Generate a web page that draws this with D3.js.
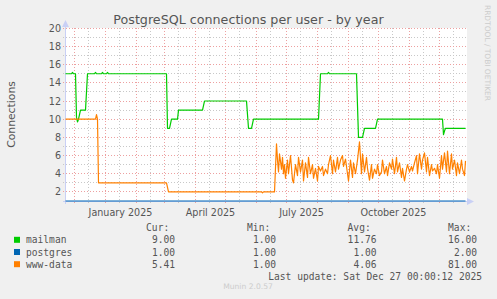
<!DOCTYPE html>
<html>
<head>
<meta charset="utf-8">
<script src="https://cdn.jsdelivr.net/npm/d3@7"></script>
<style>
  html, body { margin: 0; padding: 0; background: #f0f0f0; }
  svg { display: block; }
</style>
</head>
<body>
<div id="chart-mount"></div>
<script>
var WIDTH = 497;
var HEIGHT = 299;
var DAY = 864e5;
var START = Date.UTC(2024, 10, 22);
var END = Date.UTC(2025, 11, 27);

// [day offset from START, connections]
var mailman = [
  [0, 15], [6, 15], [7, 15.15], [8, 15], [10, 15], [11, 10.2], [12, 9.7], [13, 10],
  [15, 11], [20, 11], [22, 15], [29, 15], [30, 15.15], [31, 15], [36, 15], [37, 15.15],
  [38, 15], [41, 15], [42, 15.15], [43, 15], [101, 15], [102, 9], [104, 9], [106, 10],
  [112, 10], [113, 11], [137, 11], [139, 12], [181, 12], [183, 9], [186, 9], [188, 10],
  [253, 10], [255, 15], [262, 15], [263, 15.15], [264, 15], [291, 15], [293, 8], [297, 8],
  [299, 9], [310, 9], [312, 10], [377, 10], [378, 8.3], [379, 8.7], [380, 9], [400, 9]
];

var postgres = [
  [0, 1], [400, 1]
];

var wwwData = [
  [0, 10], [30, 10], [31, 10.5], [32, 10], [33, 3], [101, 3], [103, 2], [196, 2],
  [197, 1.9], [198, 2], [209, 2], [211, 7.3], [212, 5.5], [213, 4.2], [214, 6.2], [216, 4.5],
  [217, 5.8], [218, 4.0], [219, 5.0], [220, 3.5], [222, 5.5], [223, 4.0], [225, 6.0], [227, 3.3],
  [228, 3.0], [230, 5.0], [232, 3.8], [233, 5.8], [235, 4.2], [237, 5.5], [238, 3.2], [240, 5.2],
  [242, 3.6], [243, 5.8], [245, 4.0], [247, 5.0], [248, 3.5], [250, 4.6], [252, 3.2], [253, 4.8],
  [255, 4.3], [257, 4.8], [258, 3.8], [260, 4.5], [262, 4.0], [263, 5.0], [265, 6.0], [267, 4.0],
  [268, 5.5], [270, 4.2], [272, 5.8], [273, 4.5], [275, 5.5], [277, 6.0], [278, 4.8], [280, 5.6],
  [282, 4.0], [283, 3.2], [285, 5.5], [287, 3.6], [288, 5.2], [290, 4.0], [292, 5.5], [294, 7.5],
  [296, 4.0], [297, 6.2], [299, 4.2], [301, 5.8], [302, 4.6], [304, 3.3], [306, 5.0], [307, 3.5],
  [309, 4.5], [311, 4.0], [312, 5.0], [314, 3.8], [316, 4.2], [317, 5.5], [319, 4.0], [321, 4.8],
  [322, 3.8], [324, 5.2], [326, 4.5], [327, 5.6], [329, 4.0], [331, 5.8], [332, 4.2], [334, 5.2],
  [336, 3.6], [337, 4.6], [339, 3.2], [341, 4.5], [342, 5.0], [344, 4.2], [346, 4.8], [347, 4.3],
  [349, 5.2], [351, 6.0], [352, 4.0], [354, 6.2], [356, 4.5], [357, 5.5], [359, 6.3], [361, 4.2],
  [362, 5.8], [364, 3.8], [366, 5.0], [367, 4.3], [369, 4.6], [371, 4.0], [372, 5.0], [374, 3.5],
  [376, 6.0], [377, 4.5], [379, 6.3], [381, 4.2], [382, 6.5], [384, 4.0], [386, 6.2], [387, 4.5],
  [389, 5.5], [391, 3.8], [392, 5.2], [394, 4.0], [396, 5.5], [397, 4.5], [399, 3.8], [400, 5.41]
];

var SERIES_NAMES = ['mailman', 'postgres', 'www-data'];
var SERIES_COLORS = ['#00cc00', '#0066b3', '#ff8000'];
var CUR = ['9.00', '1.00', '5.41'];
var MIN = ['1.00', '1.00', '1.00'];
var AVG = ['11.76', '1.00', '4.06'];
var MAX = ['16.00', '2.00', '81.00'];
var Y_TICKS = [2, 4, 6, 8, 10, 12, 14, 16, 18, 20];
var Y_MINOR = [3, 5, 7, 9, 11, 13, 15, 17, 19];
var X_LABELS = ['January 2025', 'April 2025', 'July 2025', 'October 2025'];

var plot = { left: 66, right: 466, top: 28, bottom: 201 };

var $svg = d3.select('#chart-mount').append('svg')
  .attr('width', WIDTH)
  .attr('height', HEIGHT);

var x = d3.scaleUtc()
  .domain([new Date(START), new Date(END)])
  .range([65.5, 465.5]);

var y = d3.scaleLinear()
  .domain([1, 20])
  .range([plot.bottom, 28.3]);

function dayToDate (d) {
  return new Date(START + d * DAY);
}

function crisp (v) {
  return Math.round(v - 0.5) + 0.5;
}

$svg.append('rect')
  .attr('width', WIDTH)
  .attr('height', HEIGHT)
  .attr('fill', '#f0f0f0');

$svg.append('rect')
  .attr('x', plot.left)
  .attr('y', plot.top)
  .attr('width', plot.right - plot.left + 1)
  .attr('height', plot.bottom - plot.top)
  .attr('fill', '#ffffff');

// grid: month starts in red, mid-month in grey
var monthStarts = d3.utcMonth.range(new Date(START), new Date(END));
var midMonths = monthStarts.map(function (d) { return d3.utcDay.offset(d, 14); })
  .filter(function (d) { return d > START && d < END; });

var $grid = $svg.append('g');

$grid.selectAll('line.vminor')
  .data(midMonths)
  .enter()
    .append('line')
    .attr('x1', function (d) { return crisp(x(d)); })
    .attr('x2', function (d) { return crisp(x(d)); })
    .attr('y1', plot.top)
    .attr('y2', plot.bottom + 3)
    .attr('stroke', '#c8c8c8')
    .attr('stroke-dasharray', '1,2');

$grid.selectAll('line.hminor')
  .data(Y_MINOR)
  .enter()
    .append('line')
    .attr('x1', plot.left - 3)
    .attr('x2', plot.right)
    .attr('y1', function (d) { return crisp(y(d)); })
    .attr('y2', function (d) { return crisp(y(d)); })
    .attr('stroke', '#c8c8c8')
    .attr('stroke-dasharray', '1,2');

$grid.selectAll('line.vmajor')
  .data(monthStarts)
  .enter()
    .append('line')
    .attr('x1', function (d) { return crisp(x(d)); })
    .attr('x2', function (d) { return crisp(x(d)); })
    .attr('y1', plot.top)
    .attr('y2', plot.bottom + 3)
    .attr('stroke', '#eda0a0')
    .attr('stroke-dasharray', '1,2');

$grid.selectAll('line.hmajor')
  .data(Y_TICKS)
  .enter()
    .append('line')
    .attr('x1', plot.left - 3)
    .attr('x2', plot.right)
    .attr('y1', function (d) { return crisp(y(d)); })
    .attr('y2', function (d) { return crisp(y(d)); })
    .attr('stroke', '#eda0a0')
    .attr('stroke-dasharray', '1,2');

// axes with arrows
var AXIS = '#c9d0f5';
$svg.append('line')
  .attr('x1', plot.left - 0.5).attr('x2', plot.left - 0.5)
  .attr('y1', plot.bottom + 3).attr('y2', 24)
  .attr('stroke', AXIS);
$svg.append('path')
  .attr('d', 'M' + (plot.left - 4) + ',' + 27 + 'L' + (plot.left - 0.5) + ',' + 20 + 'L' + (plot.left + 3) + ',' + 27 + 'Z')
  .attr('fill', AXIS);
$svg.append('line')
  .attr('x1', plot.left - 3).attr('x2', 470)
  .attr('y1', plot.bottom + 0.5).attr('y2', plot.bottom + 0.5)
  .attr('stroke', AXIS);
$svg.append('path')
  .attr('d', 'M467,' + (plot.bottom - 3) + 'L474,' + (plot.bottom + 0.5) + 'L467,' + (plot.bottom + 4) + 'Z')
  .attr('fill', AXIS);

// series
var line = d3.line()
  .x(function (d) { return x(dayToDate(d[0])); })
  .y(function (d) { return y(d[1]); });

[mailman, postgres, wwwData].forEach(function (series, i) {
  $svg.append('path')
    .datum(series)
    .attr('d', line)
    .attr('fill', 'none')
    .attr('stroke', SERIES_COLORS[i])
    .attr('stroke-width', 1.2)
    .attr('stroke-linejoin', 'round');
});

// axis labels
var FONT = 'DejaVu Sans, sans-serif';
var MONO = 'DejaVu Sans Mono, monospace';
var TEXT = '#555555';

$svg.append('g')
  .selectAll('text')
  .data(Y_TICKS)
  .enter()
    .append('text')
    .attr('x', 61)
    .attr('y', function (d) { return y(d) + 3.5; })
    .attr('text-anchor', 'end')
    .attr('font-family', FONT)
    .attr('font-size', '9.6px')
    .attr('fill', TEXT)
    .text(function (d) { return d; });

var labelMonths = [
  new Date(Date.UTC(2025, 0, 16)), new Date(Date.UTC(2025, 3, 16)),
  new Date(Date.UTC(2025, 6, 16)), new Date(Date.UTC(2025, 9, 16))
];
$svg.append('g')
  .selectAll('text')
  .data(X_LABELS)
  .enter()
    .append('text')
    .attr('x', function (d, i) { return x(labelMonths[i]); })
    .attr('y', 216)
    .attr('text-anchor', 'middle')
    .attr('font-family', FONT)
    .attr('font-size', '9.6px')
    .attr('fill', TEXT)
    .text(function (d) { return d; });

$svg.append('text')
  .attr('x', 248.5)
  .attr('y', 24)
  .attr('text-anchor', 'middle')
  .attr('font-family', FONT)
  .attr('font-size', '12.7px')
  .attr('fill', TEXT)
  .text('PostgreSQL connections per user - by year');

$svg.append('text')
  .attr('transform', 'translate(14.5,114.5) rotate(-90)')
  .attr('text-anchor', 'middle')
  .attr('font-family', FONT)
  .attr('font-size', '10.8px')
  .attr('fill', TEXT)
  .text('Connections');

$svg.append('text')
  .attr('transform', 'translate(485,5) rotate(90)')
  .attr('font-family', FONT)
  .attr('font-size', '7.5px')
  .attr('textLength', 96)
  .attr('lengthAdjust', 'spacing')
  .attr('fill', '#cccccc')
  .text('RRDTOOL / TOBI OETIKER');

// legend
var CHAR = 5.8;
var COLS = [
  { head: 'Cur:', end: 175, values: CUR },
  { head: 'Min:', end: 276, values: MIN },
  { head: 'Avg:', end: 376.5, values: AVG },
  { head: 'Max:', end: 477, values: MAX }
];
var $legend = $svg.append('g')
  .attr('font-family', MONO)
  .attr('font-size', '9.6px')
  .attr('fill', TEXT);

COLS.forEach(function (c) {
  $legend.append('text')
    .attr('x', c.end - CHAR)
    .attr('y', 231)
    .attr('text-anchor', 'end')
    .text(c.head);
});

SERIES_NAMES.forEach(function (name, i) {
  var by = 243.3 + i * 12.2;
  $legend.append('rect')
    .attr('x', 14)
    .attr('y', by - 6.5)
    .attr('width', 6)
    .attr('height', 6)
    .attr('fill', SERIES_COLORS[i]);
  $legend.append('text')
    .attr('x', 26)
    .attr('y', by)
    .text(name);
  COLS.forEach(function (c) {
    $legend.append('text')
      .attr('x', c.end)
      .attr('y', by)
      .attr('text-anchor', 'end')
      .text(c.values[i]);
  });
});

$legend.append('text')
  .attr('x', 482)
  .attr('y', 279.5)
  .attr('text-anchor', 'end')
  .text('Last update: Sat Dec 27 00:00:12 2025');

$svg.append('text')
  .attr('x', 248)
  .attr('y', 289)
  .attr('text-anchor', 'middle')
  .attr('font-family', FONT)
  .attr('font-size', '7.6px')
  .attr('fill', '#cccccc')
  .text('Munin 2.0.57');
</script>
</body>
</html>
